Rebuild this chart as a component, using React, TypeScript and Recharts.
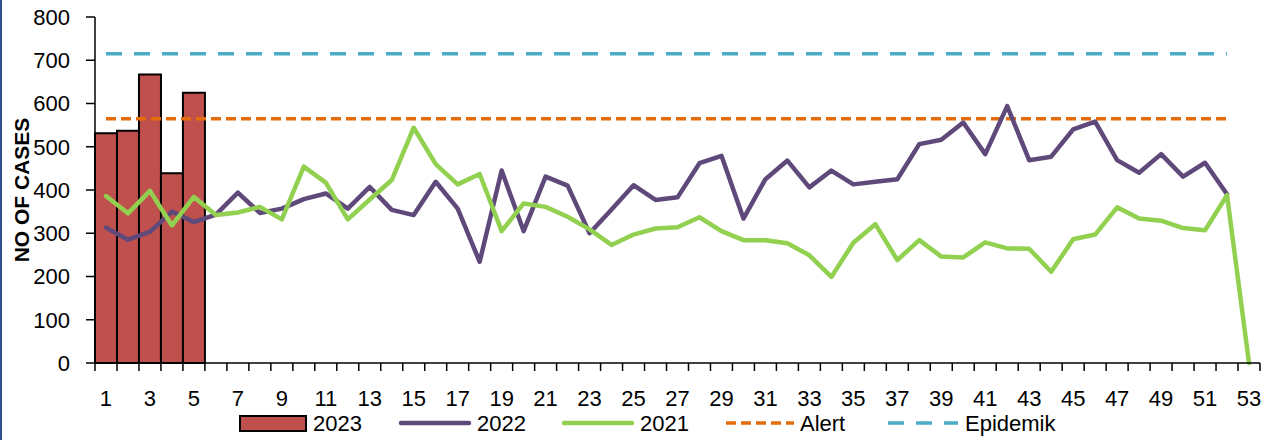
import {
  ComposedChart,
  Bar,
  Line,
  XAxis,
  YAxis,
  ReferenceLine,
  Legend,
} from 'recharts'

const weeks = [
  '1', '2', '3', '4', '5', '6', '7', '8', '9', '10',
  '11', '12', '13', '14', '15', '16', '17', '18', '19', '20',
  '21', '22', '23', '24', '25', '26', '27', '28', '29', '30',
  '31', '32', '33', '34', '35', '36', '37', '38', '39', '40',
  '41', '42', '43', '44', '45', '46', '47', '48', '49', '50',
  '51', '52', '53',
]

const cases2023 = [531, 537, 667, 439, 625]

const cases2022 = [
  313, 285, 303, 350, 326, 343, 394, 347, 357, 379,
  392, 357, 407, 354, 342, 419, 357, 234, 445, 305,
  431, 410, 300, 355, 411, 377, 383, 462, 479, 334,
  425, 468, 406, 445, 413, 419, 425, 506, 516, 556,
  483, 594, 469, 477, 540, 558, 469, 440, 483, 431,
  463, 390,
]

const cases2021 = [
  386, 346, 398, 318, 384, 342, 348, 361, 332, 454,
  417, 332, 378, 423, 544, 460, 413, 437, 305, 369,
  361, 338, 309, 273, 297, 311, 314, 337, 305, 284,
  284, 277, 249, 199, 278, 321, 238, 284, 246, 244,
  279, 265, 264, 211, 286, 297, 360, 334, 329, 312,
  307, 388, 0,
]

const yTicks = [0, 100, 200, 300, 400, 500, 600, 700, 800]

const ALERT = 565
const EPIDEMIK = 715
const THRESHOLD_FROM = '1'
const THRESHOLD_TO = '52'

const W = 1278
const H = 440
const LEFT = 95
const RIGHT = 18
const BAND = (W - LEFT - RIGHT) / weeks.length

const FONT = '"Liberation Sans", Arial, sans-serif'

const C2023 = '#c0504d'
const C2022 = '#5f497a'
const C2021 = '#92d050'
const CALERT = '#e46c0a'
const CEPI = '#4bacc6'

const data = weeks.map((w, i) => ({
  week: w,
  y2023: i < cases2023.length ? cases2023[i] : null,
  y2022: i < cases2022.length ? cases2022[i] : null,
  y2021: i < cases2021.length ? cases2021[i] : null,
}))

// excel-style ticks sit between categories, labels on every other week
function WeekTick(props: any) {
  const { x, y, index, payload } = props
  const left = x - BAND / 2
  return (
    <g>
      <line x1={left} x2={left} y1={y} y2={y + 8} stroke="#000" strokeWidth={1.5} />
      {index === weeks.length - 1 && (
        <line x1={x + BAND / 2} x2={x + BAND / 2} y1={y} y2={y + 8} stroke="#000" strokeWidth={1.5} />
      )}
      {index % 2 === 0 && (
        <text x={x} y={y + 43} textAnchor="middle" fontSize={22} fontFamily={FONT} fill="#000">
          {payload.value}
        </text>
      )}
    </g>
  )
}

function ChartLegend() {
  const txt = { fontSize: 22, fontFamily: FONT, fill: '#000' }
  return (
    <svg width={W} height={26} style={{ display: 'block' }}>
      <rect x={240} y={6} width={66} height={15} fill={C2023} stroke="#000" strokeWidth={2} />
      <text x={313} y={21} {...txt}>2023</text>
      <line x1={401} x2={469} y1={13} y2={13} stroke={C2022} strokeWidth={4.5} strokeLinecap="round" />
      <text x={477} y={21} {...txt}>2022</text>
      <line x1={564} x2={632} y1={13} y2={13} stroke={C2021} strokeWidth={4.5} strokeLinecap="round" />
      <text x={640} y={21} {...txt}>2021</text>
      <line x1={726} x2={794} y1={13} y2={13} stroke={CALERT} strokeWidth={3.5} strokeDasharray="10 5" />
      <text x={800} y={21} {...txt}>Alert</text>
      <line x1={888} x2={958} y1={13} y2={13} stroke={CEPI} strokeWidth={3.5} strokeDasharray="16 12" />
      <text x={965} y={21} {...txt}>Epidemik</text>
    </svg>
  )
}

export default function App() {
  return (
    <div style={{ position: 'absolute', left: 0, top: 0, width: W, height: H, background: '#fff' }}>
      <div style={{ position: 'absolute', left: 0, top: 0, width: 2, height: H, background: '#2f528f' }} />
      <ComposedChart
        width={W}
        height={H}
        data={data}
        margin={{ top: 17, right: RIGHT, bottom: 4, left: 0 }}
        barCategoryGap={0}
        barGap={0}
      >
        <XAxis
          dataKey="week"
          interval={0}
          height={47}
          tickLine={false}
          tickSize={0}
          tickMargin={0}
          axisLine={{ stroke: '#000', strokeWidth: 1.5 }}
          tick={<WeekTick />}
        />
        <YAxis
          width={LEFT}
          domain={[0, 800]}
          ticks={yTicks}
          interval={0}
          tickSize={9}
          tickMargin={16}
          axisLine={{ stroke: '#000', strokeWidth: 1.5 }}
          tickLine={{ stroke: '#000', strokeWidth: 1.5 }}
          tick={{ fontSize: 22, fontFamily: FONT, fill: '#000' }}
          label={{
            content: (p: any) => {
              const vb = p.viewBox || { x: 0, y: 17, height: 346 }
              const cx = vb.x + 21
              const cy = vb.y + vb.height / 2
              return (
                <text
                  x={cx}
                  y={cy}
                  transform={`rotate(-90 ${cx} ${cy})`}
                  textAnchor="middle"
                  dominantBaseline="central"
                  fontSize={21}
                  fontWeight="bold"
                  fontFamily={FONT}
                  fill="#000"
                >
                  NO OF CASES
                </text>
              )
            },
          }}
        />
        <Legend verticalAlign="bottom" content={() => <ChartLegend />} wrapperStyle={{ left: 0, width: W }} />
        <Bar dataKey="y2023" name="2023" fill={C2023} stroke="#000" strokeWidth={2} isAnimationActive={false} />
        <ReferenceLine
          segment={[{ x: THRESHOLD_FROM, y: ALERT }, { x: THRESHOLD_TO, y: ALERT }]}
          stroke={CALERT}
          strokeWidth={3.5}
          strokeDasharray="10 5"
        />
        <ReferenceLine
          segment={[{ x: THRESHOLD_FROM, y: EPIDEMIK }, { x: THRESHOLD_TO, y: EPIDEMIK }]}
          stroke={CEPI}
          strokeWidth={3.5}
          strokeDasharray="16 12"
        />
        <Line
          dataKey="y2022"
          name="2022"
          stroke={C2022}
          strokeWidth={4.5}
          strokeLinejoin="round"
          strokeLinecap="round"
          dot={false}
          activeDot={false}
          isAnimationActive={false}
        />
        <Line
          dataKey="y2021"
          name="2021"
          stroke={C2021}
          strokeWidth={4.5}
          strokeLinejoin="round"
          strokeLinecap="round"
          dot={false}
          activeDot={false}
          isAnimationActive={false}
        />
      </ComposedChart>
    </div>
  )
}
